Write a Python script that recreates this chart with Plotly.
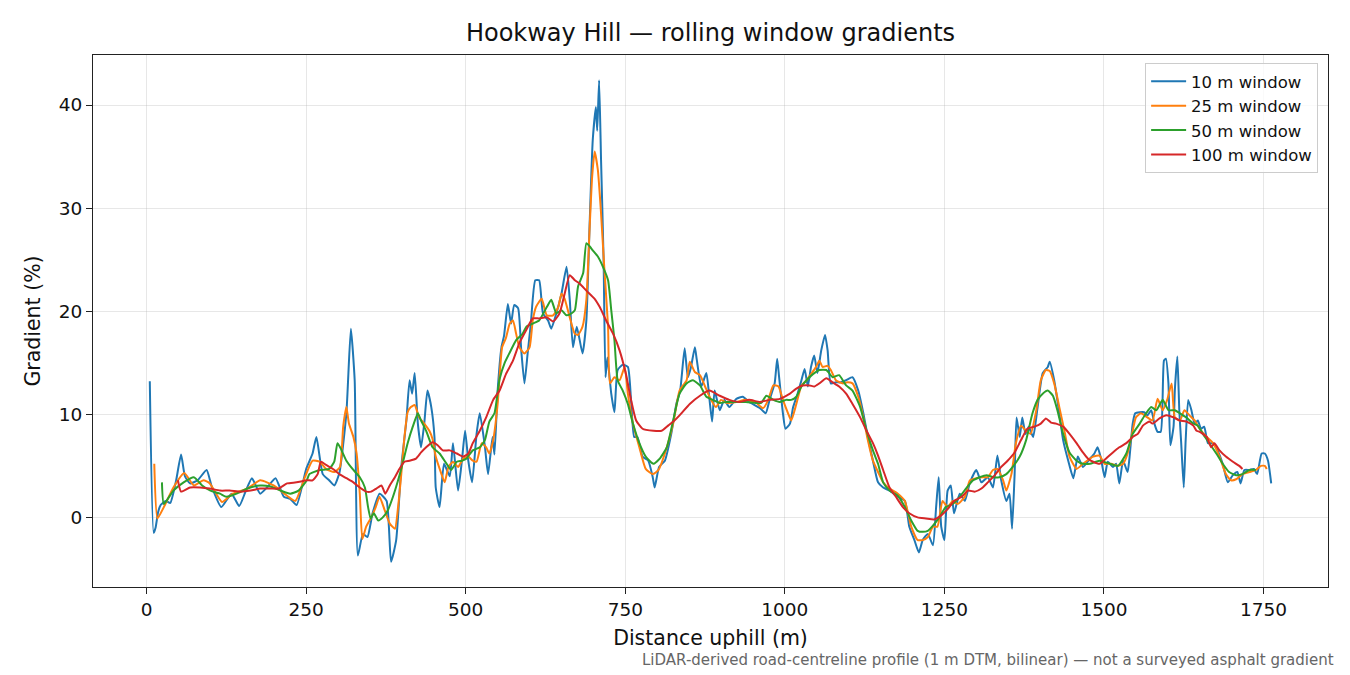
import plotly.graph_objects as go

# distance uphill (m) and gradient (%), one pair of lists per window
dist10 = [5, 11, 14, 18, 22, 30, 37, 46, 54, 60, 68, 80, 94, 102, 117, 133, 145, 155, 165, 178, 190, 202,
          215, 225, 235, 250, 260, 266, 276, 286, 294, 302, 313, 320, 326, 331, 339, 346, 354, 365, 376,
          383, 391, 399, 407, 412, 416, 420, 425, 430, 435, 440, 446, 451, 453, 459, 466, 475, 480, 488,
          494, 499, 504, 510, 517, 522, 530, 535, 542, 545, 550, 556, 560, 566, 571, 576, 582, 587, 592,
          597, 602, 609, 615, 621, 629, 634, 642, 650, 658, 663, 668, 674, 683, 689, 694, 699, 704, 706,
          709, 712, 716, 719, 722, 728, 733, 738, 746, 754, 759, 764, 769, 777, 786, 793, 796, 803, 812,
          822, 830, 836, 843, 848, 853, 859, 862, 869, 877, 882, 886, 890, 898, 905, 913, 924, 934, 944,
          961, 970, 976, 984, 988, 991, 997, 1001, 1008, 1013, 1020, 1026, 1031, 1036, 1041, 1046, 1051,
          1057, 1063, 1067, 1072, 1080, 1088, 1096, 1106, 1115, 1123, 1130, 1138, 1146, 1154, 1164, 1177,
          1188, 1195, 1203, 1210, 1216, 1224, 1232, 1237, 1241, 1245, 1250, 1255, 1260, 1265, 1274, 1282,
          1290, 1300, 1308, 1318, 1326, 1333, 1339, 1347, 1352, 1356, 1360, 1363, 1368, 1372, 1377, 1382,
          1389, 1396, 1404, 1412, 1415, 1422, 1430, 1436, 1444, 1452, 1459, 1467, 1478, 1485, 1490, 1495,
          1501, 1506, 1514, 1519, 1524, 1530, 1537, 1540, 1545, 1549, 1556, 1563, 1568, 1574, 1579, 1584,
          1589, 1594, 1597, 1601, 1604, 1609, 1611, 1615, 1618, 1621, 1625, 1628, 1632, 1637, 1642, 1647,
          1652, 1657, 1663, 1671, 1678, 1686, 1694, 1702, 1709, 1714, 1720, 1728, 1735, 1740, 1747, 1752,
          1757, 1762]
grad10 = [13.2, -1.5, -1.0, 0.5, 1.2, 1.6, 1.4, 3.5, 6.1, 4.0, 3.3, 3.6, 4.6, 3.0, 1.0, 2.3, 1.1, 2.5, 3.8,
          2.3, 3.0, 3.8, 2.0, 1.8, 1.2, 4.7, 6.2, 7.8, 4.2, 3.6, 3.1, 4.3, 10.1, 18.3, 13.3, -3.7, -1.6,
          -1.9, 0.4, 2.3, 1.6, -4.3, -2.2, 4.9, 9.4, 13.3, 12.0, 14.0, 9.1, 6.8, 9.1, 12.3, 10.7, 7.8,
          2.9, 1.0, 5.2, 4.0, 7.2, 2.6, 5.5, 8.4, 5.5, 3.4, 8.1, 10.1, 6.9, 4.2, 7.8, 6.1, 12.3, 16.5,
          17.6, 20.7, 18.8, 20.6, 20.3, 16.2, 13.0, 15.9, 18.8, 23.0, 23.0, 19.8, 19.1, 18.3, 19.8, 21.7,
          24.3, 21.1, 16.5, 18.5, 15.9, 19.1, 28.2, 36.6, 39.8, 37.5, 42.4, 34.7, 25.0, 13.6, 15.5, 12.0,
          10.2, 14.3, 14.8, 14.6, 11.4, 7.8, 7.8, 5.9, 5.5, 3.9, 2.9, 4.9, 5.5, 8.1, 11.0, 12.3, 16.4,
          13.6, 14.6, 16.5, 15.3, 12.7, 14.0, 11.4, 9.3, 12.3, 10.4, 11.4, 10.7, 11.5, 11.7, 11.2, 10.6,
          10.1, 11.4, 13.0, 15.4, 13.6, 10.1, 8.6, 9.1, 10.7, 12.0, 13.3, 14.4, 12.7, 14.6, 15.7, 14.0,
          16.2, 17.7, 16.2, 13.0, 13.1, 13.1, 13.3, 13.6, 12.3, 10.1, 7.8, 5.5, 3.4, 2.9, 2.6, 2.0, 1.6,
          -0.9, -2.2, -3.4, -2.2, -1.6, -2.7, 1.0, 3.9, -0.9, -2.2, 2.6, 3.1, 0.4, 2.3, 1.6, 3.4, 4.6,
          3.4, 3.9, 2.9, 6.0, 3.6, 1.6, 2.3, -1.1, 4.2, 9.7, 7.8, 9.7, 8.1, 8.8, 7.8, 10.7, 14.0, 14.6,
          15.1, 13.3, 10.1, 7.5, 5.5, 3.8, 5.9, 4.9, 5.7, 6.2, 6.8, 5.8, 3.9, 5.4, 4.9, 5.2, 3.3, 5.5,
          4.4, 5.8, 9.1, 10.1, 10.2, 10.2, 9.9, 10.4, 9.1, 8.3, 8.3, 15.2, 15.4, 13.0, 7.0, 8.8, 12.3,
          15.6, 10.4, 7.2, 2.9, 7.5, 11.4, 10.4, 9.1, 9.4, 8.6, 8.8, 7.2, 7.2, 6.5, 5.2, 3.4, 4.1, 4.4,
          3.3, 4.6, 4.6, 4.7, 4.2, 6.2, 6.2, 5.5, 3.3]

dist25 = [12, 17, 27, 42, 59, 74, 89, 99, 118, 135, 158, 178, 199, 220, 233, 248, 260, 271, 281, 294, 303,
          308, 313, 317, 324, 329, 334, 338, 344, 352, 359, 365, 373, 381, 389, 394, 399, 404, 409, 414,
          420, 427, 435, 443, 448, 453, 462, 467, 473, 480, 488, 496, 504, 511, 517, 525, 532, 537, 543,
          550, 557, 563, 569, 574, 579, 584, 592, 600, 605, 610, 619, 627, 637, 645, 650, 655, 663, 671,
          676, 683, 689, 694, 698, 702, 707, 712, 717, 723, 726, 733, 741, 749, 754, 762, 772, 782, 793,
          802, 812, 825, 835, 846, 851, 859, 867, 875, 882, 892, 900, 910, 924, 939, 955, 966, 974, 982,
          990, 997, 1005, 1010, 1018, 1026, 1034, 1041, 1049, 1054, 1059, 1067, 1072, 1080, 1091, 1098,
          1106, 1115, 1123, 1130, 1138, 1146, 1154, 1164, 1177, 1188, 1198, 1208, 1216, 1224, 1232, 1239,
          1247, 1255, 1263, 1271, 1282, 1290, 1300, 1310, 1318, 1326, 1333, 1342, 1347, 1355, 1362, 1370,
          1378, 1385, 1394, 1401, 1409, 1415, 1422, 1430, 1439, 1446, 1457, 1467, 1483, 1493, 1501, 1511,
          1522, 1530, 1537, 1545, 1550, 1558, 1568, 1576, 1584, 1592, 1599, 1606, 1611, 1619, 1626, 1634,
          1642, 1650, 1661, 1671, 1681, 1691, 1699, 1707, 1717, 1728, 1738, 1746, 1752, 1755]
grad25 = [5.2, -0.1, 1.0, 2.9, 4.3, 3.1, 3.6, 3.3, 1.5, 2.3, 2.8, 3.6, 3.1, 2.1, 1.6, 3.9, 5.5, 5.4, 4.7,
          4.4, 4.9, 8.8, 10.7, 9.1, 7.8, 6.2, 2.3, -2.1, -0.9, 0.0, 1.0, 2.0, 0.7, -0.6, -1.1, 1.0, 4.2,
          7.8, 10.2, 10.7, 10.9, 9.7, 9.1, 8.4, 7.6, 5.9, 4.2, 3.4, 4.9, 5.4, 4.9, 5.7, 5.9, 5.5, 5.4, 7.2,
          6.8, 6.2, 7.5, 11.0, 16.5, 17.4, 18.8, 19.1, 17.8, 16.5, 15.9, 16.5, 19.1, 20.4, 21.2, 19.6,
          19.6, 20.4, 21.7, 21.2, 19.4, 17.8, 17.7, 18.5, 21.1, 27.9, 33.0, 35.5, 33.7, 29.5, 24.3, 18.5,
          13.0, 13.6, 13.3, 14.6, 12.0, 9.1, 6.8, 4.7, 4.2, 4.6, 6.2, 9.1, 12.3, 13.3, 15.1, 14.1, 13.8,
          12.7, 11.7, 10.7, 11.4, 11.1, 11.2, 11.4, 11.1, 10.6, 11.4, 12.8, 12.7, 11.4, 10.1, 9.4, 11.0,
          12.8, 13.3, 13.9, 14.6, 15.2, 14.6, 14.7, 14.3, 13.3, 13.0, 13.1, 13.0, 11.7, 9.7, 7.5, 5.5,
          4.4, 3.4, 2.8, 2.3, 1.6, -0.9, -2.2, -2.2, -1.9, -0.9, -0.9, 1.6, 1.0, 1.6, 1.3, 2.0, 3.6, 3.8,
          3.9, 3.9, 4.6, 4.7, 3.6, 2.6, 4.2, 7.2, 8.9, 8.4, 8.1, 10.4, 13.3, 14.3, 14.2, 13.0, 10.7, 8.1,
          5.9, 4.7, 5.2, 5.9, 6.0, 5.2, 5.2, 5.0, 5.2, 6.2, 8.4, 9.7, 10.1, 9.7, 9.4, 11.5, 10.4, 11.4,
          13.0, 9.7, 9.4, 10.4, 9.9, 9.4, 8.6, 7.8, 7.2, 5.9, 4.2, 3.6, 3.7, 4.2, 4.4, 4.6, 5.0, 5.0, 4.7]

dist50 = [24, 27, 42, 58, 74, 87, 100, 115, 125, 141, 158, 178, 194, 210, 225, 238, 251, 255, 271, 286,
          294, 299, 304, 313, 324, 334, 342, 347, 351, 356, 363, 370, 378, 386, 394, 401, 409, 417, 425,
          430, 438, 448, 459, 470, 477, 486, 494, 501, 511, 522, 530, 537, 545, 553, 561, 569, 579, 589,
          595, 605, 615, 627, 634, 642, 650, 658, 666, 671, 676, 684, 689, 694, 699, 707, 715, 723, 728,
          733, 738, 746, 754, 762, 772, 782, 794, 804, 815, 825, 835, 846, 856, 867, 877, 887, 898, 908,
          924, 939, 955, 963, 971, 982, 992, 1002, 1010, 1018, 1026, 1034, 1044, 1054, 1065, 1075, 1085,
          1096, 1106, 1118, 1128, 1138, 1146, 1154, 1164, 1177, 1188, 1198, 1208, 1216, 1224, 1232, 1242,
          1252, 1263, 1274, 1285, 1295, 1305, 1316, 1326, 1336, 1347, 1357, 1368, 1378, 1388, 1396, 1404,
          1412, 1420, 1427, 1436, 1446, 1457, 1467, 1478, 1493, 1509, 1522, 1535, 1545, 1556, 1566, 1574,
          1582, 1592, 1601, 1611, 1619, 1629, 1640, 1647, 1655, 1665, 1676, 1686, 1696, 1707, 1717, 1728,
          1738]
grad50 = [3.4, 1.3, 2.6, 3.4, 3.9, 3.1, 2.6, 2.3, 2.0, 2.3, 2.8, 3.1, 3.0, 2.6, 2.3, 2.6, 3.6, 4.2, 4.6,
          4.7, 5.4, 7.2, 6.7, 5.5, 4.6, 3.9, 2.9, 1.0, -0.1, 0.4, -0.3, 0.0, 0.7, 2.0, 3.6, 5.2, 7.2, 8.8,
          10.1, 9.4, 8.4, 6.8, 6.2, 5.2, 4.6, 5.4, 5.5, 5.7, 6.5, 6.8, 7.5, 9.3, 10.1, 13.4, 15.0, 16.0,
          17.2, 17.8, 18.5, 18.8, 19.1, 20.4, 21.1, 19.8, 20.1, 19.6, 19.8, 20.1, 22.4, 23.7, 26.6, 26.3,
          25.9, 25.3, 24.3, 23.0, 20.1, 17.2, 13.3, 12.3, 11.0, 9.1, 7.2, 5.9, 5.2, 5.7, 6.8, 9.4, 12.0,
          13.0, 13.3, 12.8, 11.7, 11.4, 11.1, 11.2, 11.2, 11.2, 11.1, 11.1, 11.8, 11.4, 11.2, 11.4, 11.4,
          11.7, 12.7, 13.3, 13.9, 14.3, 14.3, 13.6, 13.8, 12.8, 12.3, 10.7, 8.4, 6.5, 5.2, 3.4, 2.6, 2.1,
          1.0, -0.3, -1.3, -1.4, -1.3, -0.8, 0.0, 1.0, 1.3, 2.0, 2.9, 3.6, 3.9, 4.1, 3.9, 3.9, 4.2, 4.9,
          5.9, 7.5, 10.1, 11.4, 12.0, 12.3, 11.8, 10.4, 8.1, 6.3, 5.5, 5.2, 5.2, 5.5, 5.2, 5.0, 6.2, 8.1,
          9.1, 10.1, 10.7, 10.4, 11.4, 10.4, 10.4, 10.1, 9.7, 9.1, 8.9, 8.1, 7.2, 6.2, 5.2, 4.4, 4.1, 4.2,
          4.6, 4.6, 4.6]

dist100 = [49, 54, 68, 84, 99, 115, 130, 147, 163, 178, 194, 207, 220, 235, 251, 260, 268, 273, 281, 292,
           302, 313, 324, 334, 344, 352, 360, 368, 374, 381, 389, 396, 404, 412, 422, 430, 438, 448, 456,
           464, 475, 486, 496, 504, 511, 522, 532, 543, 553, 563, 574, 584, 595, 605, 615, 627, 637, 647,
           655, 663, 671, 678, 689, 702, 710, 720, 731, 741, 751, 759, 767, 777, 794, 807, 817, 827, 835,
           851, 867, 882, 898, 913, 929, 944, 961, 976, 992, 1008, 1018, 1028, 1039, 1046, 1054, 1065,
           1075, 1085, 1096, 1106, 1118, 1128, 1138, 1146, 1154, 1164, 1174, 1185, 1195, 1208, 1221, 1234,
           1245, 1255, 1265, 1277, 1287, 1298, 1308, 1318, 1329, 1339, 1349, 1360, 1370, 1380, 1391, 1401,
           1409, 1417, 1425, 1436, 1446, 1457, 1467, 1475, 1483, 1493, 1503, 1514, 1524, 1535, 1545, 1553,
           1561, 1571, 1576, 1587, 1598, 1609, 1619, 1629, 1640, 1645, 1650, 1661, 1668, 1673, 1681, 1691,
           1702, 1712, 1717]
grad100 = [3.6, 2.5, 2.9, 2.9, 2.8, 2.6, 2.6, 2.5, 2.6, 2.8, 2.8, 2.8, 3.3, 3.4, 3.6, 3.6, 4.2, 5.4, 5.1,
           4.7, 4.2, 3.8, 3.4, 2.9, 2.5, 2.5, 2.8, 3.1, 2.3, 3.1, 3.9, 4.7, 5.4, 5.5, 5.7, 6.3, 6.8, 7.3,
           7.0, 6.5, 6.5, 6.2, 5.9, 6.2, 7.2, 8.4, 9.7, 11.4, 12.3, 13.9, 15.2, 16.9, 18.2, 19.3, 19.3,
           19.4, 19.0, 19.8, 21.7, 23.5, 23.0, 22.7, 22.0, 21.2, 20.4, 19.1, 17.8, 16.2, 13.9, 11.4, 9.4,
           8.6, 8.4, 8.4, 8.9, 9.4, 9.9, 11.0, 11.8, 12.3, 11.8, 11.4, 11.2, 11.4, 11.2, 11.4, 11.5, 12.0,
           12.5, 12.8, 12.8, 12.7, 13.0, 13.5, 13.1, 12.7, 12.0, 11.0, 9.7, 8.4, 7.2, 6.0, 4.6, 2.9, 2.0,
           1.0, 0.4, 0.0, -0.1, -0.2, 0.2, 0.8, 1.6, 2.0, 2.6, 2.5, 2.8, 3.4, 4.1, 4.9, 5.5, 6.3, 7.5, 8.6,
           8.8, 9.1, 9.6, 9.2, 9.1, 8.8, 8.1, 7.2, 6.3, 5.7, 5.4, 5.2, 5.7, 6.3, 6.8, 7.2, 7.8, 8.1, 8.9,
           9.3, 9.1, 9.6, 9.9, 9.7, 9.4, 9.3, 8.9, 8.4, 8.3, 7.8, 6.8, 7.2, 6.5, 5.9, 5.4, 5.0, 4.7]

series = [
    ("10 m window", dist10, grad10, "#1f77b4"),
    ("25 m window", dist25, grad25, "#ff7f0e"),
    ("50 m window", dist50, grad50, "#2ca02c"),
    ("100 m window", dist100, grad100, "#d62728"),
]

fig = go.Figure()
for name, xs, ys, col in series:
    fig.add_trace(go.Scatter(x=xs, y=ys, mode="lines", name=name, legendgroup=name,
                             line=dict(color=col, width=2, shape="spline", smoothing=0.5)))

axis_style = dict(showline=True, linecolor="#222", linewidth=1.2, mirror=True,
                  ticks="outside", ticklen=6, tickcolor="#222", tickwidth=1.2,
                  showgrid=True, gridcolor="rgba(176,176,176,0.3)", gridwidth=1,
                  zeroline=False, tickfont=dict(size=18.5, color="#111"))

fig.update_xaxes(range=[-84, 1851], tickvals=[0, 250, 500, 750, 1000, 1250, 1500, 1750],
                 title=dict(text="Distance uphill (m)", font=dict(size=20.5, color="#111"), standoff=11),
                 **axis_style)
fig.update_yaxes(range=[-6.75, 44.85], tickvals=[0, 10, 20, 30, 40],
                 title=dict(text="Gradient (%)", font=dict(size=20.5, color="#111"), standoff=12),
                 **axis_style)

# the page body adds an 8 px offset, so the figure is drawn 8 px smaller
fig.update_layout(
    width=1342, height=667,
    margin=dict(l=85, r=22, t=47, b=88),
    paper_bgcolor="white", plot_bgcolor="white",
    font=dict(family="DejaVu Sans", color="#111"),
    title=dict(text="Hookway Hill — rolling window gradients", x=0.5, xref="paper",
               y=1 - 25 / 667, yanchor="middle", font=dict(size=24, color="#111")),
    legend=dict(x=0.992, y=0.985, xanchor="right", yanchor="top",
                bgcolor="rgba(255,255,255,0.8)", bordercolor="#cccccc", borderwidth=1,
                font=dict(size=16.5, color="#111"), tracegroupgap=0, itemwidth=35),
    annotations=[dict(text="LiDAR-derived road-centreline profile (1 m DTM, bilinear) — not a surveyed asphalt gradient",
                      xref="paper", yref="paper", x=1.0065, y=-0.137, xanchor="right", yanchor="middle",
                      showarrow=False, font=dict(size=15, color="#666666"))],
)

fig.write_html("out.html")
